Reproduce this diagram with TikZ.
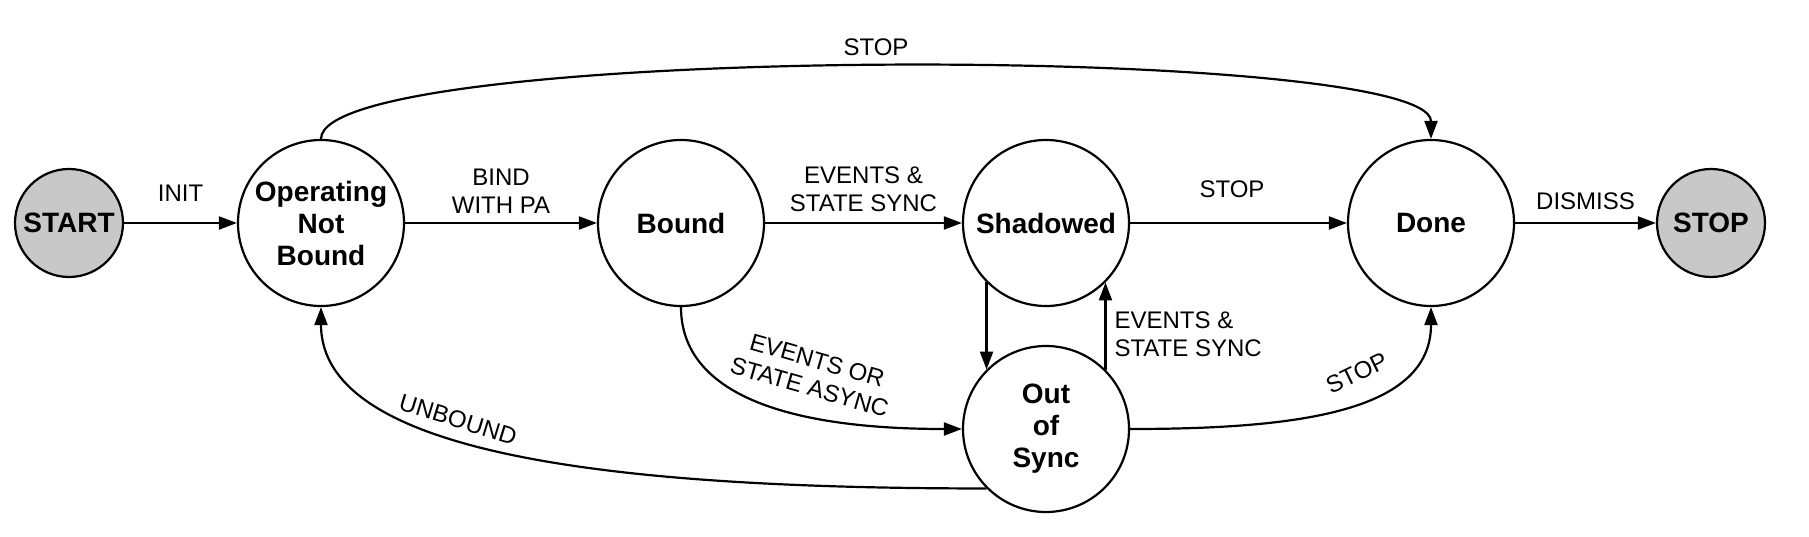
\documentclass[tikz,border=0pt]{standalone}
\usepackage{fontspec}
\setmainfont{Liberation Sans}
\usepackage{tikz}
\usetikzlibrary{arrows.meta,positioning}
\definecolor{smgray}{HTML}{C8C8C8}
\tikzset{
  stateNode/.style={circle, draw, line width=1.1pt, minimum size=83pt, inner sep=0pt, align=center, font=\fontsize{14}{16}\selectfont\bfseries},
  termNode/.style={stateNode, fill=smgray, minimum size=54pt},
  flowArrow/.style={-{Triangle[length=9pt,width=6.5pt]}, line width=1.1pt},
  flowLabel/.style={font=\fontsize{12}{14}\selectfont, align=center, inner sep=0pt}
}

\begin{document}
\begin{tikzpicture}[x=0.5pt,y=0.5pt]
  \useasboundingbox (0,0) rectangle (1809,536);
  % states
  \node[termNode] (start) at (69,313) {START};
  \node[stateNode] (onb) at (321,313) {Operating\\ Not\\ Bound};
  \node[stateNode] (bound) at (681,313) {Bound};
  \node[stateNode] (shadow) at (1046,313) {Shadowed};
  \node[stateNode] (oos) at (1046,107) {Out\\ of\\ Sync};
  \node[stateNode] (done) at (1431,313) {Done};
  \node[termNode] (stop) at (1711,313) {STOP};
  % main line
  \draw[flowArrow] (start) -- node[flowLabel, above=10pt] {INIT} (onb);
  \draw[flowArrow] (onb) -- node[flowLabel, above=4pt] {BIND\\ WITH PA} (bound);
  \draw[flowArrow] (bound) -- node[flowLabel, above=5pt] {EVENTS \&\\ STATE SYNC} (shadow);
  \draw[flowArrow] (shadow) -- node[flowLabel, above=12pt, pos=0.47] {STOP} (done);
  \draw[flowArrow] (done) -- node[flowLabel, above=6pt] {DISMISS} (stop);
  % sync loop
  \draw[flowArrow] (shadow.225) -- (oos.135);
  \draw[flowArrow] (oos.45) -- node[flowLabel, right=4pt, yshift=-4pt, align=left] {EVENTS \&\\ STATE SYNC} (shadow.315);
  % curved ones
  \draw[flowArrow] (onb.north) .. controls +(0,96) and +(0,96) .. node[flowLabel, above=5pt] {STOP} (done.north);
  \draw[flowArrow] (bound.south) .. controls +(0,-74) and +(-203,0) .. node[flowLabel, xshift=34pt, yshift=11pt, rotate=-16] {EVENTS OR\\ STATE ASYNC} (oos.west);
  \draw[flowArrow] (oos.east) .. controls +(171,0) and +(0,-104) .. node[flowLabel, xshift=6pt, yshift=17pt, rotate=26] {STOP} (done.south);
  \draw[flowArrow] (oos.225) .. controls +(-367,0) and +(0,-149) .. node[flowLabel, xshift=-29pt, yshift=17pt, rotate=-17] {UNBOUND} (onb.south);
\end{tikzpicture}
\end{document}
